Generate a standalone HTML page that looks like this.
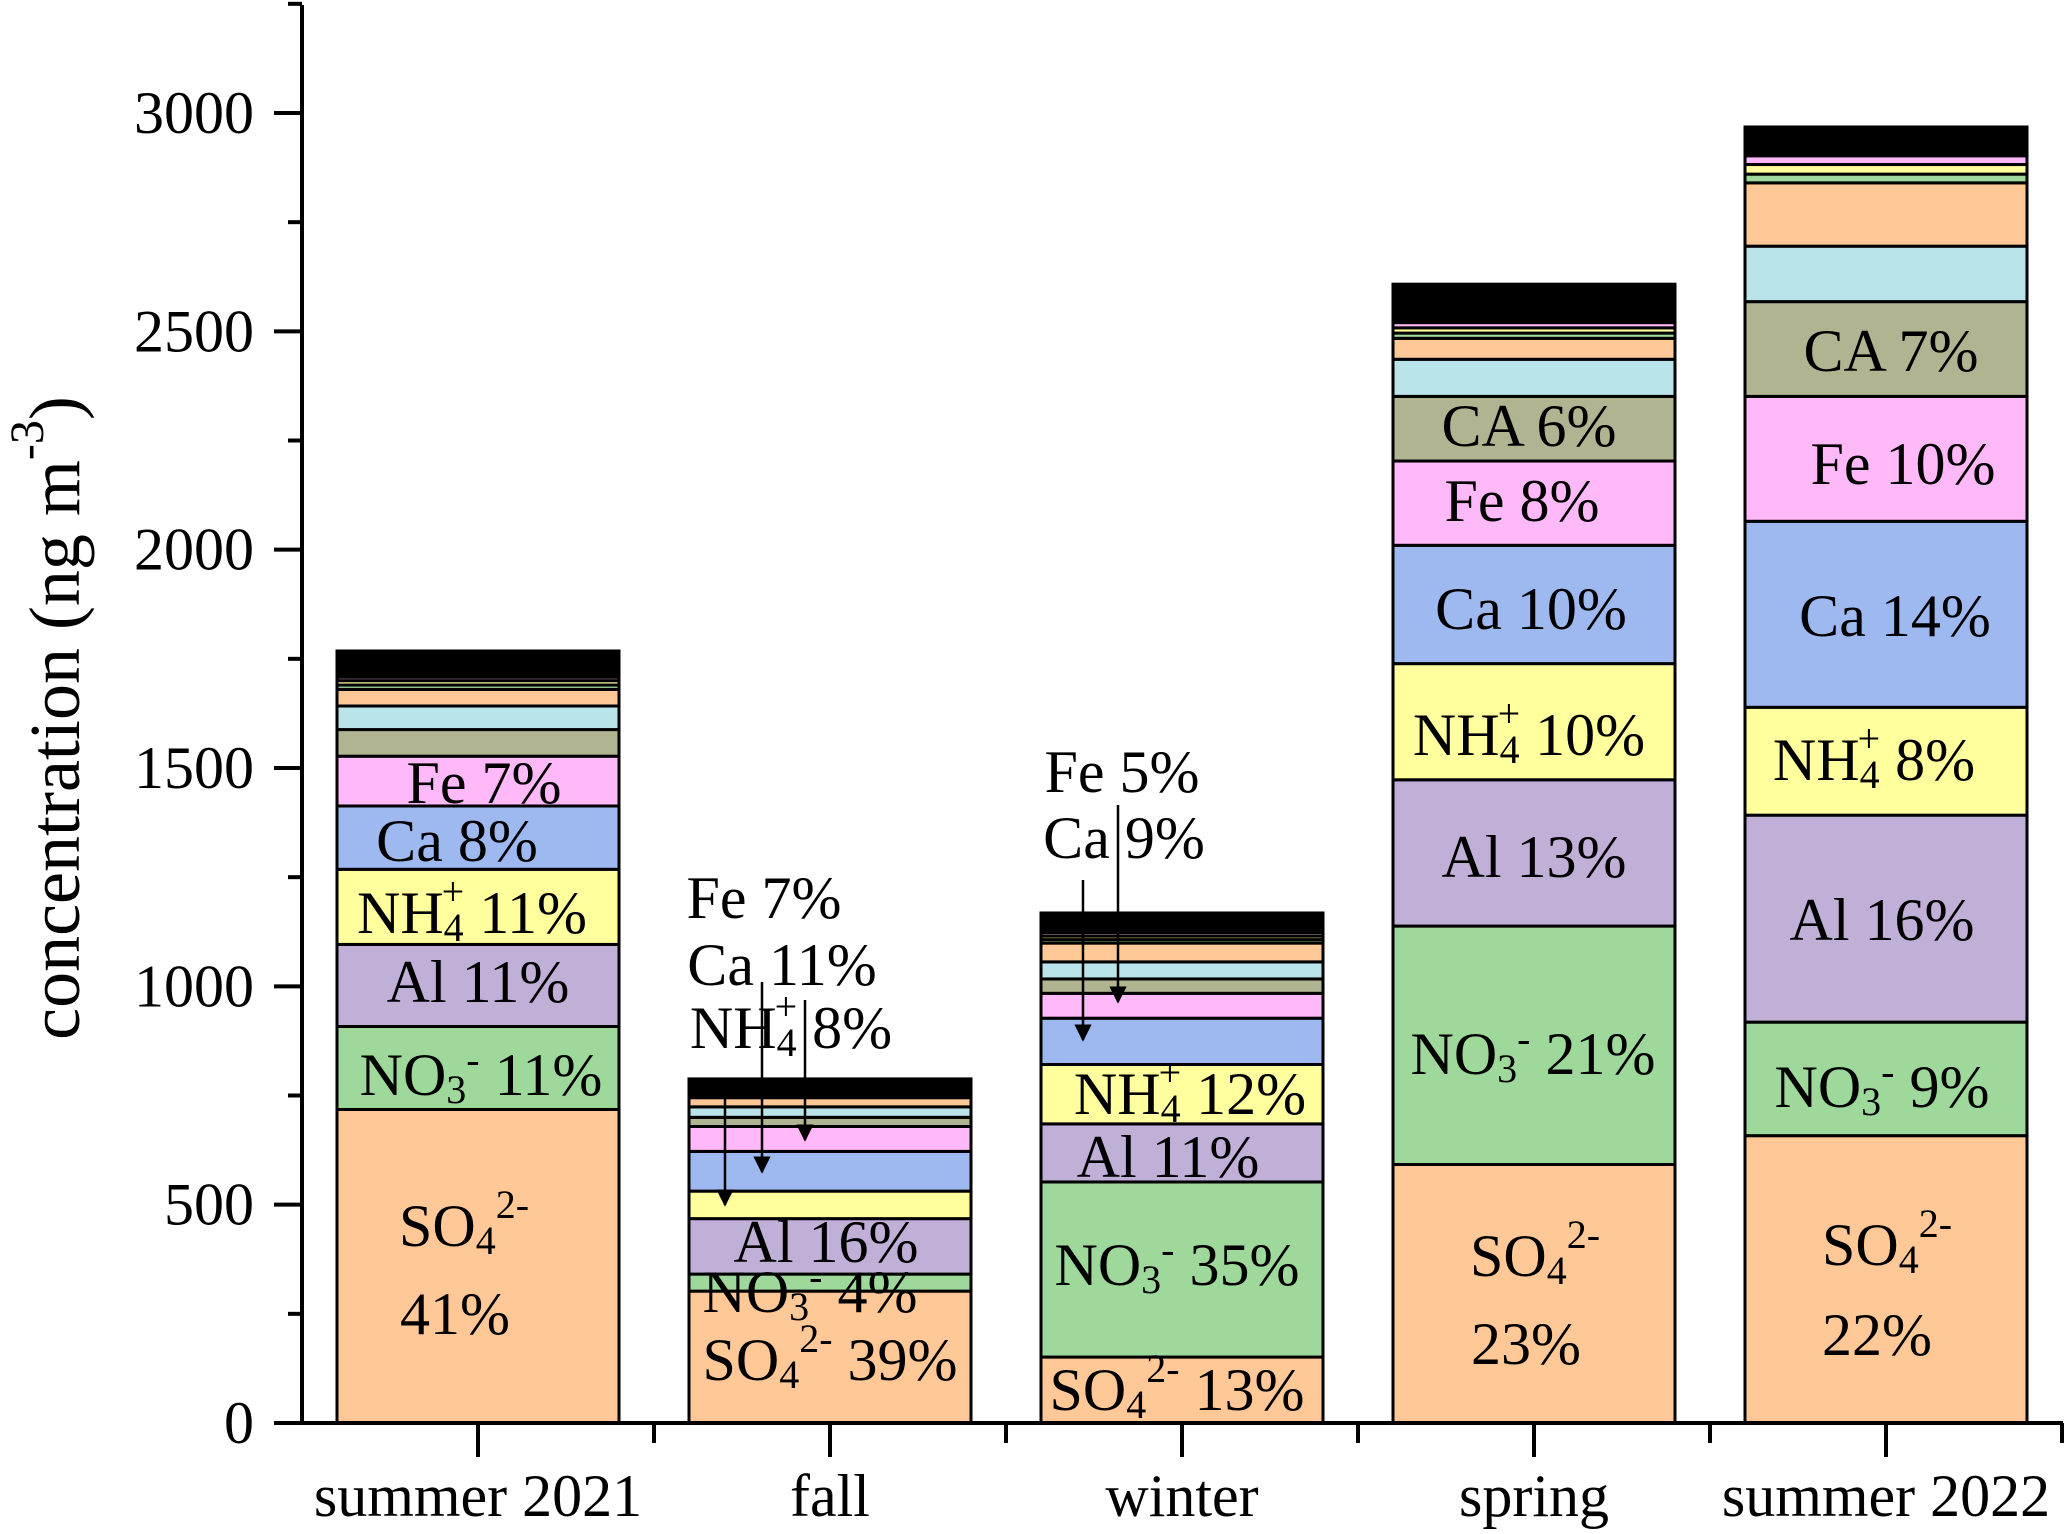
<!DOCTYPE html>
<html><head><meta charset="utf-8"><style>
html,body{margin:0;padding:0;background:#fff}
svg{display:block;font-family:"Liberation Serif",serif}
.lb{font-size:60px;text-anchor:middle;dominant-baseline:central;fill:#000}
.tk{font-size:60px;text-anchor:end;dominant-baseline:central}
.xl{font-size:60px;text-anchor:middle;dominant-baseline:central}
</style></head><body>
<svg id="chart" width="2067" height="1534" viewBox="0 0 2067 1534">
<defs><marker id="ah" viewBox="0 0 10 10" refX="9" refY="5" markerWidth="7" markerHeight="9" orient="auto"><path d="M0,0 L10,5 L0,10 z" fill="#000"/></marker></defs>
<g id="bars"></g>
<g id="axes"></g>
<g>
<text class="lb" x="484" y="783">Fe 7%</text>
<text class="lb" x="457" y="841">Ca 8%</text>
<text class="lb" x="472" y="913">NH<tspan font-size="40" dy="14">4</tspan><tspan font-size="40" dx="-22" dy="-36">+</tspan><tspan dy="22"> 11%</tspan></text>
<text class="lb" x="478" y="982">Al 11%</text>
<text class="lb" x="481" y="1075">NO<tspan font-size="40" dy="14">3</tspan><tspan font-size="40" dy="-30">-</tspan><tspan dy="16"> 11%</tspan></text>
<text class="lb" x="464" y="1226">SO<tspan font-size="40" dy="14">4</tspan><tspan font-size="40" dy="-36">2-</tspan></text>
<text class="lb" x="455" y="1314">41%</text>

<text class="lb" x="764" y="898">Fe 7%</text>
<text class="lb" x="782" y="965">Ca 11%</text>
<text class="lb" x="791" y="1028">NH<tspan font-size="40" dy="14">4</tspan><tspan font-size="40" dx="-22" dy="-36">+</tspan><tspan dy="22"> 8%</tspan></text>
<text class="lb" x="826" y="1242">Al 16%</text>
<text class="lb" x="810" y="1292">NO<tspan font-size="40" dy="14">3</tspan><tspan font-size="40" dy="-30">-</tspan><tspan dy="16"> 4%</tspan></text>
<text class="lb" x="830" y="1360">SO<tspan font-size="40" dy="14">4</tspan><tspan font-size="40" dy="-36">2-</tspan><tspan dy="22"> 39%</tspan></text>

<text class="lb" x="1122" y="772">Fe 5%</text>
<text class="lb" x="1124" y="838">Ca 9%</text>
<text class="lb" x="1190" y="1094">NH<tspan font-size="40" dy="14">4</tspan><tspan font-size="40" dx="-22" dy="-36">+</tspan><tspan dy="22"> 12%</tspan></text>
<text class="lb" x="1168" y="1157">Al 11%</text>
<text class="lb" x="1177" y="1265">NO<tspan font-size="40" dy="14">3</tspan><tspan font-size="40" dy="-30">-</tspan><tspan dy="16"> 35%</tspan></text>
<text class="lb" x="1177" y="1390">SO<tspan font-size="40" dy="14">4</tspan><tspan font-size="40" dy="-36">2-</tspan><tspan dy="22"> 13%</tspan></text>

<text class="lb" x="1529" y="426">CA 6%</text>
<text class="lb" x="1522" y="501">Fe 8%</text>
<text class="lb" x="1531" y="609">Ca 10%</text>
<text class="lb" x="1529" y="735">NH<tspan font-size="40" dy="14">4</tspan><tspan font-size="40" dx="-22" dy="-36">+</tspan><tspan dy="22"> 10%</tspan></text>
<text class="lb" x="1534" y="857">Al 13%</text>
<text class="lb" x="1533" y="1054">NO<tspan font-size="40" dy="14">3</tspan><tspan font-size="40" dy="-30">-</tspan><tspan dy="16"> 21%</tspan></text>
<text class="lb" x="1535" y="1256">SO<tspan font-size="40" dy="14">4</tspan><tspan font-size="40" dy="-36">2-</tspan></text>
<text class="lb" x="1526" y="1344">23%</text>

<text class="lb" x="1891" y="351">CA 7%</text>
<text class="lb" x="1903" y="464">Fe 10%</text>
<text class="lb" x="1895" y="616">Ca 14%</text>
<text class="lb" x="1874" y="760">NH<tspan font-size="40" dy="14">4</tspan><tspan font-size="40" dx="-22" dy="-36">+</tspan><tspan dy="22"> 8%</tspan></text>
<text class="lb" x="1882" y="920">Al 16%</text>
<text class="lb" x="1882" y="1087">NO<tspan font-size="40" dy="14">3</tspan><tspan font-size="40" dy="-30">-</tspan><tspan dy="16"> 9%</tspan></text>
<text class="lb" x="1887" y="1245">SO<tspan font-size="40" dy="14">4</tspan><tspan font-size="40" dy="-36">2-</tspan></text>
<text class="lb" x="1877" y="1335">22%</text>
</g>
<g stroke="#000" stroke-width="2.5">
<line x1="725" y1="1090" x2="725" y2="1205" marker-end="url(#ah)"/>
<line x1="762" y1="982" x2="762" y2="1172" marker-end="url(#ah)"/>
<line x1="805" y1="1000" x2="805" y2="1140" marker-end="url(#ah)"/>
<line x1="1083" y1="880" x2="1083" y2="1040" marker-end="url(#ah)"/>
<line x1="1118" y1="805" x2="1118" y2="1002" marker-end="url(#ah)"/>
</g>
<text transform="translate(55,718) rotate(-90)" font-size="72" text-anchor="middle" dominant-baseline="central">concentration (ng m<tspan font-size="48" dy="-28">-3</tspan><tspan dy="28">)</tspan></text>
</svg>
<script>
const categories = ["summer 2021","fall","winter","spring","summer 2022"];
const speciesNames = ["SO4","NO3","Al","NH4","Ca","Fe","CA","other1","other2","other3","other4","other5","others"];
const so4 = [718,302,151,592,658];
const no3 = [190,39,401,546,260];
const al = [188,127,133,335,474];
const nh4 = [172,63,136,266,247];
const ca = [145,91,106,271,426];
const fe = [114,57,57,193,286];
const caOrg = [61,21,33,148,217];
const other1 = [54,24,39,85,127];
const other2 = [38,21,43,48,145];
const other3 = [10,6,8,12,20];
const other4 = [10,6,8,12,22];
const other5 = [8,5,8,12,20];
const others = [60,26,45,88,66];
const yTicks = [0,500,1000,1500,2000,2500,3000];
const series = [so4,no3,al,nh4,ca,fe,caOrg,other1,other2,other3,other4,other5,others];
const colors = ["#FFC896","#9ED89A","#C0B0D8","#FFFF9E","#9EB8F0","#FFB8F8","#B0B490","#B8E4EA","#FFC896","#9ED89A","#FFFF9E","#FFB8F8","#000"];
const NS="http://www.w3.org/2000/svg";
const y0=1423, pxPer=1310/3000;
function yScale(v){return y0 - v*pxPer;}
function xCenter(i){return 478 + i*352;}
const bw=282;
const barsG=document.getElementById('bars');
categories.forEach((c,i)=>{
  let cum=0;
  series.forEach((s,k)=>{
    const v=s[i];
    const r=document.createElementNS(NS,'rect');
    
    
    r.setAttribute('x', xCenter(i)-bw/2);
    r.setAttribute('y', yScale(cum+v));
    r.setAttribute('width', bw);
    r.setAttribute('height', v*pxPer);
    r.setAttribute('fill', colors[k]);
    r.setAttribute('stroke', '#000');
    r.setAttribute('stroke-width', '3');
    barsG.appendChild(r);
    cum+=v;
  });
});
const ax=document.getElementById('axes');
function ln(x1,y1,x2,y2,w){const l=document.createElementNS(NS,'line');l.setAttribute('x1',x1);l.setAttribute('y1',y1);l.setAttribute('x2',x2);l.setAttribute('y2',y2);l.setAttribute('stroke','#000');l.setAttribute('stroke-width',w);ax.appendChild(l);return l;}
const ya=ln(302,5,302,y0+2,4);


const xa=ln(274,y0,2063,y0,4);


yTicks.forEach(t=>{
  ln(274,yScale(t),302,yScale(t),4);
  ln(288,yScale(t+250),302,yScale(t+250),4);
  const tx=document.createElementNS(NS,'text');
  
  
  tx.setAttribute('class','tk');tx.setAttribute('x',254);tx.setAttribute('y',yScale(t));
  tx.textContent=t;ax.appendChild(tx);
});
categories.forEach((c,i)=>{
  ln(xCenter(i),y0,xCenter(i),y0+34,4);
  ln(xCenter(i)+176,y0,xCenter(i)+176,y0+20,4);
  const tx=document.createElementNS(NS,'text');
  
  
  tx.setAttribute('class','xl');tx.setAttribute('x',xCenter(i));tx.setAttribute('y',1496);
  tx.textContent=c;ax.appendChild(tx);
});
</script>
</body></html>
